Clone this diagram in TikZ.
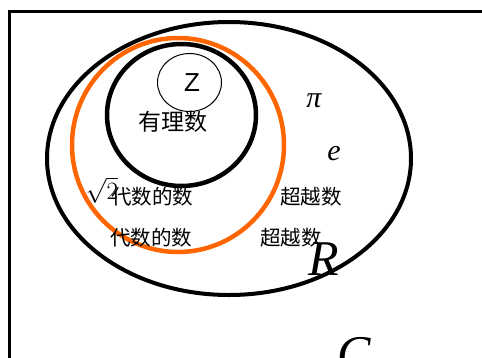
\documentclass[tikz,border=0pt]{standalone}
\usepackage{fontspec}
\newfontfamily\cjk{Noto Sans CJK SC}
\newfontfamily\arialf{Liberation Sans}
\newfontfamily\tnrf{Liberation Serif}
\definecolor{setorange}{HTML}{FF6600}
\tikzset{
  cjklabel/.style={font=\cjk\fontsize{20.5}{20.5}\selectfont, inner sep=0pt},
  mathlabel/.style={font=\tnrf\itshape\fontsize{30}{30}\selectfont, inner sep=0pt},
  biglabel/.style={font=\tnrf\itshape\fontsize{50}{50}\selectfont, inner sep=0pt},
}
\begin{document}
\begin{tikzpicture}[x=1pt,y=-1pt]
\useasboundingbox (0,0) rectangle (482,357);
\clip (0,0) rectangle (482,357);
\fill[white] (0,0) rectangle (482,357);
% universe C
\draw[line width=3pt] (9.5,11.5) rectangle (500,380);
% R
\draw[line width=4pt] (229,158.5) ellipse [x radius=182, y radius=136.5];
% Q
\draw[line width=4.5pt] (181.5,115) ellipse [x radius=74.5, y radius=71];
% Z
\draw[line width=1pt] (189.5,82.5) ellipse [x radius=32, y radius=29];
% algebraic
\draw[line width=4.5pt, setorange] (178,145) ellipse [x radius=106, y radius=107];
% labels
\node[font=\arialf\fontsize{26}{26}\selectfont, inner sep=0pt] (z) at (192,83) {Z};
\node[font=\cjk\fontsize{23}{23}\selectfont, inner sep=0pt] (q) at (173,122) {有理数};
\node[mathlabel] (pi) at (314,101) {π};
\node[mathlabel] (e) at (334,154) {e};
\node[inner sep=0pt, font=\fontsize{29}{29}\selectfont] (sqrt2) at (102,190) {$\sqrt{2}$};
\node[cjklabel] (alg1) at (152,197) {代数的数};
\node[cjklabel] (alg2) at (151,238) {代数的数};
\node[cjklabel] (tr1) at (311,197) {超越数};
\node[cjklabel] (tr2) at (291,238) {超越数};
\node[biglabel] (r) at (324,259) {R};
\node[biglabel] (c) at (354,354) {C};
\end{tikzpicture}
\end{document}
